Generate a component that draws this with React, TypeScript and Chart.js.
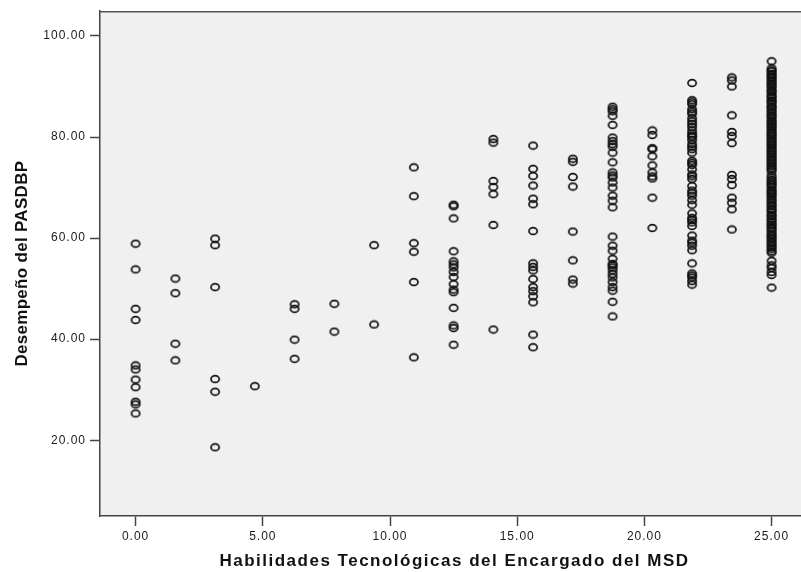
import React, { useEffect, useRef } from "react";
import { Chart, registerables } from "chart.js";

Chart.register(...registerables);

// x levels (Habilidades Tecnológicas)
const xLevels = [0, 1.5625, 3.125, 4.6875, 6.25, 7.8125, 9.375, 10.9375, 12.5, 14.0625, 15.625, 17.1875, 18.75, 20.3125, 21.875, 23.4375, 25];

// y values per x level (Desempeño del PASDBP)
const col00 = [58.9, 53.8, 46.0, 43.8, 34.8, 34.0, 32.0, 30.5, 27.6, 27.1, 25.3];
const col01 = [52.0, 49.1, 39.1, 35.8];
const col02 = [59.9, 58.6, 50.3, 32.1, 29.6, 18.6];
const col03 = [30.7];
const col04 = [46.9, 46.0, 39.9, 36.1];
const col05 = [47.0, 41.5];
const col06 = [58.6, 42.9];
const col07 = [74.0, 68.3, 59.0, 57.3, 51.3, 36.4];
const col08 = [66.6, 66.3, 63.9, 57.4, 55.4, 54.8, 54.2, 53.3, 52.3, 50.9, 49.8, 49.3, 46.2, 42.7, 42.2, 38.9];
const col09 = [79.6, 78.9, 71.3, 70.1, 68.7, 62.6, 41.9];
const col10 = [78.3, 73.7, 72.3, 70.4, 67.8, 66.7, 61.4, 55.0, 54.3, 53.6, 51.9, 50.3, 49.5, 48.5, 47.3, 40.9, 38.4];
const col11 = [75.7, 75.1, 72.1, 70.2, 61.3, 55.6, 51.8, 51.0];
const col12 = [86.0, 85.5, 85.1, 84.2, 82.4, 79.9, 79.2, 78.6, 78.1, 76.9, 75.0, 73.0, 72.4, 72.0, 71.0, 70.0, 68.4, 67.4, 66.1, 60.3, 58.5, 57.5, 55.9, 54.9, 54.6, 54.2, 53.6, 52.9, 52.2, 51.3, 50.3, 49.6, 47.4, 44.5];
const col13 = [81.3, 80.4, 77.8, 77.6, 76.2, 74.4, 73.0, 72.2, 71.8, 68.0, 62.0];
const col14 = [90.7, 87.3, 86.9, 86.5, 85.5, 85.0, 84.6, 83.7, 83.1, 82.6, 82.0, 81.3, 80.7, 80.3, 80.0, 79.4, 78.6, 78.1, 77.6, 76.9, 75.3, 74.9, 74.5, 73.6, 72.6, 72.2, 71.7, 70.3, 69.4, 68.9, 68.4, 67.5, 66.6, 64.9, 64.0, 63.6, 63.1, 62.4, 60.5, 59.5, 59.1, 58.5, 57.6, 55.0, 53.0, 52.6, 52.2, 51.5, 50.8];
const col15 = [91.8, 91.2, 90.0, 84.3, 81.0, 80.2, 78.8, 72.5, 71.7, 70.5, 68.0, 67.0, 65.7, 61.7];
const col16 = [95.0, 93.6, 93.2, 93.0, 92.5, 92.3, 91.9, 91.6, 91.2, 90.9, 90.5, 90.2, 89.9, 89.4, 89.1, 88.8, 88.3, 88.0, 87.7, 87.2, 87.0, 86.6, 86.1, 85.9, 85.5, 85.1, 84.8, 84.3, 84.1, 83.7, 83.2, 83.0, 82.6, 82.2, 81.9, 81.5, 81.1, 80.8, 80.4, 80.1, 79.7, 79.3, 79.0, 78.6, 78.3, 77.9, 77.5, 77.2, 76.8, 76.5, 76.1, 75.7, 75.4, 75.0, 74.7, 74.3, 73.9, 73.6, 73.2,
  72.4, 72.0, 71.5, 71.2, 70.8, 70.5, 70.1, 69.6, 69.3, 68.9, 68.6, 68.2, 67.7, 67.4, 67.0, 66.6, 66.3, 65.8, 65.5, 65.1, 64.6, 64.4, 63.9, 63.6, 63.2, 62.7, 62.5, 62.0, 61.7, 61.3, 60.8, 60.5, 60.1, 59.8, 59.3, 59.0, 58.6, 58.2, 57.9, 57.4, 57.1,
  55.5, 54.6, 54.1, 53.3, 52.7, 50.2];

const yColumns = [col00, col01, col02, col03, col04, col05, col06, col07, col08, col09, col10, col11, col12, col13, col14, col15, col16];

const xTicks = [0, 5, 10, 15, 20, 25];
const yTicks = [20, 40, 60, 80, 100];
const xTitle = "Habilidades Tecnológicas del Encargado del MSD";
const yTitle = "Desempeño del PASDBP";

const FONT = '"Liberation Sans", Arial, Helvetica, sans-serif';

function makeMarker(): HTMLCanvasElement {
  const c = document.createElement("canvas");
  c.width = 12;
  c.height = 10;
  const g = c.getContext("2d")!;
  g.strokeStyle = "#111111";
  g.lineWidth = 1.7;
  g.beginPath();
  g.ellipse(6, 5, 4.1, 3.4, 0, 0, Math.PI * 2);
  g.stroke();
  return c;
}

const plotBg = {
  id: "plotBg",
  beforeDraw(chart: any) {
    const { ctx, chartArea } = chart;
    const { left, top, right, bottom } = chartArea;
    ctx.save();
    ctx.fillStyle = "#f0f0f0";
    ctx.fillRect(left, top, right - left, bottom - top);
    ctx.strokeStyle = "#555555";
    ctx.lineWidth = 1.4;
    ctx.beginPath();
    ctx.moveTo(left, top + 0.5);
    ctx.lineTo(right, top + 0.5);
    ctx.stroke();
    ctx.restore();
    for (const id of Object.keys(chart.scales)) {
      const s: any = chart.scales[id];
      if (s.__wrapped) continue;
      s.__wrapped = true;
      const titleSp = id === "x" ? "1.5px" : "0.3px";
      const ot = s.drawTitle;
      s.drawTitle = function (...a: any[]) {
        const c = this.ctx;
        c.save();
        c.letterSpacing = titleSp;
        ot.apply(this, a);
        c.restore();
      };
      const ol = s.drawLabels;
      s.drawLabels = function (...a: any[]) {
        const c = this.ctx;
        c.save();
        c.letterSpacing = "1px";
        ol.apply(this, a);
        c.restore();
      };
    }
  },
};

export default function App() {
  const ref = useRef<HTMLCanvasElement | null>(null);

  useEffect(() => {
    document.body.style.margin = "0";
    const canvas = ref.current;
    if (!canvas) return;
    const marker = makeMarker();
    const points: { x: number; y: number }[] = [];
    xLevels.forEach((xv, i) => {
      yColumns[i].forEach((yv) => points.push({ x: xv, y: yv }));
    });

    const chart = new Chart(canvas, {
      type: "scatter",
      data: {
        datasets: [
          {
            data: points,
            pointStyle: marker as any,
            pointRadius: 4,
            pointHoverRadius: 4,
          },
        ],
      },
      plugins: [plotBg],
      options: {
        animation: false,
        responsive: false,
        events: [],
        layout: { padding: { top: 10, left: 0, right: 0, bottom: 0 } },
        plugins: { legend: { display: false }, tooltip: { enabled: false } },
        scales: {
          x: {
            type: "linear",
            min: -1.4,
            max: 26.47,
            afterBuildTicks: (s: any) => {
              s.ticks = xTicks.map((v) => ({ value: v }));
            },
            afterFit: (s: any) => {
              s.height = 56;
            },
            grid: { display: true, drawOnChartArea: false, drawTicks: true, tickLength: 10, tickColor: "#444", tickWidth: 1.5 },
            border: { display: true, color: "#444", width: 1.5 },
            ticks: {
              color: "#1a1a1a",
              font: { family: FONT, size: 12 },
              padding: 3,
              maxRotation: 0,
              autoSkip: false,
              callback: (v: any) => Number(v).toFixed(2),
            },
            title: {
              display: true,
              text: xTitle,
              color: "#111",
              font: { family: FONT, size: 17, weight: "bold" },
              padding: { top: 0, bottom: 0 },
            },
          },
          y: {
            type: "linear",
            min: 5.0,
            max: 104.9,
            afterBuildTicks: (s: any) => {
              s.ticks = yTicks.map((v) => ({ value: v }));
            },
            afterFit: (s: any) => {
              s.width = 100;
            },
            grid: { display: true, drawOnChartArea: false, drawTicks: true, tickLength: 10, tickColor: "#444", tickWidth: 1.5 },
            border: { display: true, color: "#444", width: 1.5 },
            ticks: {
              color: "#1a1a1a",
              font: { family: FONT, size: 12 },
              padding: 4,
              autoSkip: false,
              callback: (v: any) => Number(v).toFixed(2),
            },
            title: {
              display: true,
              text: yTitle,
              color: "#111",
              font: { family: FONT, size: 17, weight: "bold" },
              padding: { top: 12, bottom: 0 },
            },
          },
        },
      },
    });
    return () => chart.destroy();
  }, []);

  return (
    <div style={{ width: 801, height: 572, overflow: "hidden", background: "#fff" }}>
      <canvas ref={ref} width={814} height={572} style={{ display: "block", width: 814, height: 572 }} />
    </div>
  );
}
